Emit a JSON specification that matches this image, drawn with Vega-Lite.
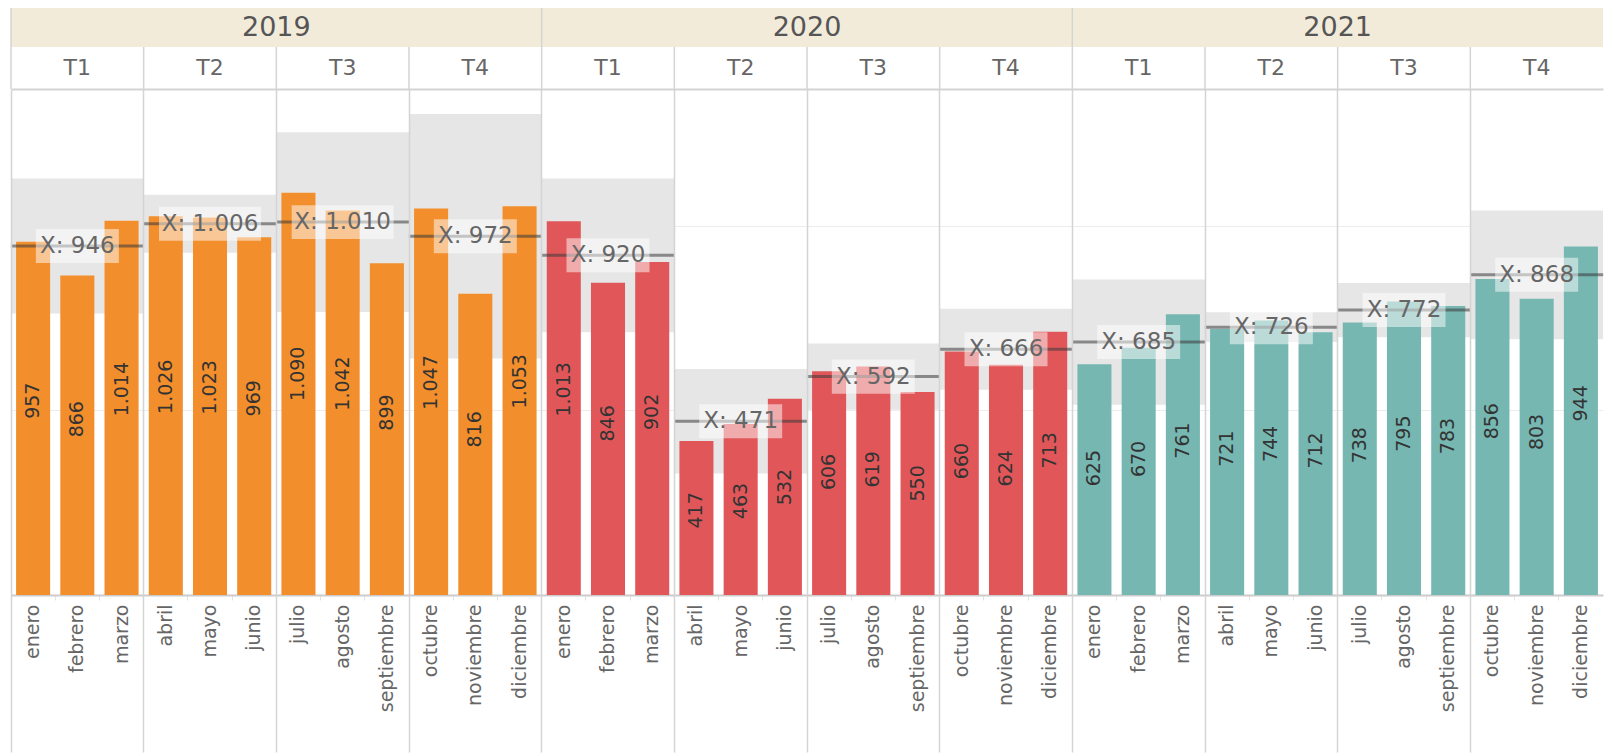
{
  "$schema": "https://vega.github.io/schema/vega-lite/v6.json",
  "padding": {"left": 10, "top": 7, "right": 0, "bottom": 0},
  "spacing": 0,
  "bounds": "flush",
  "config": {
    "view": {"stroke": null},
    "font": "DejaVu Sans",
    "locale": {"number": {"decimal": ",", "thousands": ".", "grouping": [3], "currency": ["", " €"]}},
    "axisY": {"labels": false, "ticks": false, "domain": false, "grid": true, "minExtent": 0, "maxExtent": 0}
  },
  "datasets": {
    "months": [
      {"y": "2019", "q": "T1", "qk": "2019|T1", "mk": "2019|enero", "v": 957},
      {"y": "2019", "q": "T1", "qk": "2019|T1", "mk": "2019|febrero", "v": 866},
      {"y": "2019", "q": "T1", "qk": "2019|T1", "mk": "2019|marzo", "v": 1014},
      {"y": "2019", "q": "T2", "qk": "2019|T2", "mk": "2019|abril", "v": 1026},
      {"y": "2019", "q": "T2", "qk": "2019|T2", "mk": "2019|mayo", "v": 1023},
      {"y": "2019", "q": "T2", "qk": "2019|T2", "mk": "2019|junio", "v": 969},
      {"y": "2019", "q": "T3", "qk": "2019|T3", "mk": "2019|julio", "v": 1090},
      {"y": "2019", "q": "T3", "qk": "2019|T3", "mk": "2019|agosto", "v": 1042},
      {"y": "2019", "q": "T3", "qk": "2019|T3", "mk": "2019|septiembre", "v": 899},
      {"y": "2019", "q": "T4", "qk": "2019|T4", "mk": "2019|octubre", "v": 1047},
      {"y": "2019", "q": "T4", "qk": "2019|T4", "mk": "2019|noviembre", "v": 816},
      {"y": "2019", "q": "T4", "qk": "2019|T4", "mk": "2019|diciembre", "v": 1053},
      {"y": "2020", "q": "T1", "qk": "2020|T1", "mk": "2020|enero", "v": 1013},
      {"y": "2020", "q": "T1", "qk": "2020|T1", "mk": "2020|febrero", "v": 846},
      {"y": "2020", "q": "T1", "qk": "2020|T1", "mk": "2020|marzo", "v": 902},
      {"y": "2020", "q": "T2", "qk": "2020|T2", "mk": "2020|abril", "v": 417},
      {"y": "2020", "q": "T2", "qk": "2020|T2", "mk": "2020|mayo", "v": 463},
      {"y": "2020", "q": "T2", "qk": "2020|T2", "mk": "2020|junio", "v": 532},
      {"y": "2020", "q": "T3", "qk": "2020|T3", "mk": "2020|julio", "v": 606},
      {"y": "2020", "q": "T3", "qk": "2020|T3", "mk": "2020|agosto", "v": 619},
      {"y": "2020", "q": "T3", "qk": "2020|T3", "mk": "2020|septiembre", "v": 550},
      {"y": "2020", "q": "T4", "qk": "2020|T4", "mk": "2020|octubre", "v": 660},
      {"y": "2020", "q": "T4", "qk": "2020|T4", "mk": "2020|noviembre", "v": 624},
      {"y": "2020", "q": "T4", "qk": "2020|T4", "mk": "2020|diciembre", "v": 713},
      {"y": "2021", "q": "T1", "qk": "2021|T1", "mk": "2021|enero", "v": 625},
      {"y": "2021", "q": "T1", "qk": "2021|T1", "mk": "2021|febrero", "v": 670},
      {"y": "2021", "q": "T1", "qk": "2021|T1", "mk": "2021|marzo", "v": 761},
      {"y": "2021", "q": "T2", "qk": "2021|T2", "mk": "2021|abril", "v": 721},
      {"y": "2021", "q": "T2", "qk": "2021|T2", "mk": "2021|mayo", "v": 744},
      {"y": "2021", "q": "T2", "qk": "2021|T2", "mk": "2021|junio", "v": 712},
      {"y": "2021", "q": "T3", "qk": "2021|T3", "mk": "2021|julio", "v": 738},
      {"y": "2021", "q": "T3", "qk": "2021|T3", "mk": "2021|agosto", "v": 795},
      {"y": "2021", "q": "T3", "qk": "2021|T3", "mk": "2021|septiembre", "v": 783},
      {"y": "2021", "q": "T4", "qk": "2021|T4", "mk": "2021|octubre", "v": 856},
      {"y": "2021", "q": "T4", "qk": "2021|T4", "mk": "2021|noviembre", "v": 803},
      {"y": "2021", "q": "T4", "qk": "2021|T4", "mk": "2021|diciembre", "v": 944}
    ],
    "quarters": [
      {"y": "2019", "q": "T1", "qk": "2019|T1", "mean": 945.7, "lo": 762.8, "hi": 1128.5, "lab": "X: 946"},
      {"y": "2019", "q": "T2", "qk": "2019|T2", "mean": 1006, "lo": 927.4, "hi": 1084.6, "lab": "X: 1.006"},
      {"y": "2019", "q": "T3", "qk": "2019|T3", "mean": 1010.3, "lo": 766.9, "hi": 1253.7, "lab": "X: 1.010"},
      {"y": "2019", "q": "T4", "qk": "2019|T4", "mean": 972, "lo": 641.0, "hi": 1303.0, "lab": "X: 972"},
      {"y": "2020", "q": "T1", "qk": "2020|T1", "mean": 920.3, "lo": 712.1, "hi": 1128.5, "lab": "X: 920"},
      {"y": "2020", "q": "T2", "qk": "2020|T2", "mean": 470.7, "lo": 328.9, "hi": 612.5, "lab": "X: 471"},
      {"y": "2020", "q": "T3", "qk": "2020|T3", "mean": 591.7, "lo": 501.9, "hi": 681.5, "lab": "X: 592"},
      {"y": "2020", "q": "T4", "qk": "2020|T4", "mean": 665.7, "lo": 556.0, "hi": 775.3, "lab": "X: 666"},
      {"y": "2021", "q": "T1", "qk": "2021|T1", "mean": 685.3, "lo": 515.6, "hi": 855.0, "lab": "X: 685"},
      {"y": "2021", "q": "T2", "qk": "2021|T2", "mean": 725.7, "lo": 685.2, "hi": 766.1, "lab": "X: 726"},
      {"y": "2021", "q": "T3", "qk": "2021|T3", "mean": 772, "lo": 698.4, "hi": 845.6, "lab": "X: 772"},
      {"y": "2021", "q": "T4", "qk": "2021|T4", "mean": 867.7, "lo": 693.2, "hi": 1042.1, "lab": "X: 868"}
    ],
    "years": [{"y": "2019"}, {"y": "2020"}, {"y": "2021"}]
  },
  "vconcat": [
    {
      "width": 1592,
      "height": 39,
      "data": {"name": "years"},
      "encoding": {
        "x": {"field": "y", "type": "nominal", "sort": null, "title": null,
              "scale": {"paddingInner": 0, "paddingOuter": 0}, "axis": null}
      },
      "layer": [
        {"mark": {"type": "rect", "fill": "#f3ebda"}},
        {"mark": {"type": "rule", "color": "#d4d4d4", "strokeWidth": 1.5},
         "encoding": {"x": {"field": "y", "type": "nominal", "sort": null, "bandPosition": 0,
                            "scale": {"paddingInner": 0, "paddingOuter": 0}, "axis": null}}},
        {"mark": {"type": "text", "fontSize": 27, "color": "#555555"}, "encoding": {"text": {"field": "y"}}}
      ]
    },
    {
      "width": 1592,
      "height": 42,
      "data": {"name": "quarters"},
      "encoding": {
        "x": {"field": "qk", "type": "nominal", "sort": null, "title": null,
              "scale": {"paddingInner": 0, "paddingOuter": 0}, "axis": null}
      },
      "layer": [
        {"mark": {"type": "rule", "color": "#d4d4d4", "strokeWidth": 1.5},
         "encoding": {"x": {"field": "qk", "type": "nominal", "sort": null, "bandPosition": 0, "title": null,
                            "scale": {"paddingInner": 0, "paddingOuter": 0}, "axis": null}}},
        {"mark": {"type": "text", "fontSize": 22, "color": "#666666"},
         "encoding": {"text": {"field": "q"}}}
      ]
    },
    {
      "width": 1592,
      "height": 506,
      "resolve": {"scale": {"x": "independent", "y": "shared"}, "axis": {"x": "independent"}},
      "layer": [
        {
          "data": {"name": "quarters"},
          "mark": {"type": "rect", "fill": "#e6e6e6"},
          "encoding": {
            "x": {"field": "qk", "type": "nominal", "sort": null, "title": null,
                  "scale": {"paddingInner": 0, "paddingOuter": 0},
                  "axis": {"orient": "bottom", "labels": false, "domain": false, "ticks": true, "tickSize": 157, "tickColor": "#d4d4d4", "tickWidth": 1.5, "grid": true, "gridColor": "#d4d4d4", "gridWidth": 1.5, "bandPosition": 0, "zindex": 1}},
            "y": {"field": "lo", "type": "quantitative", "title": null, "scale": {"domain": [0, 1371], "nice": false},
                  "axis": {"values": [500, 1000, 1371], "gridColor": {"condition": {"test": "datum.value > 1300", "value": "#d4d4d4"}, "value": "#ececec"}, "gridWidth": {"condition": {"test": "datum.value > 1300", "value": 2}, "value": 1}}},
            "y2": {"field": "hi"}
          }
        },
        {
          "data": {"name": "months"},
          "encoding": {
            "x": {"field": "mk", "type": "nominal", "sort": null, "title": null,
                  "scale": {"paddingInner": 0, "paddingOuter": 0},
                  "axis": {"orient": "bottom", "labelAngle": 270, "labelAlign": "right", "labelBaseline": "middle", "labelExpr": "split(datum.value, '|')[1]", "labelFontSize": 19, "labelColor": "#666666", "labelPadding": 4, "ticks": true, "tickSize": 5, "tickColor": "#e2e2e2", "bandPosition": 0, "domain": true, "domainColor": "#cccccc", "domainWidth": 2, "grid": false}}
          },
          "layer": [
            {
              "mark": {"type": "bar", "width": {"band": 0.77}},
              "encoding": {
                "y": {"field": "v", "type": "quantitative", "title": null, "scale": {"domain": [0, 1371], "nice": false},
                      "axis": {"values": [500, 1000, 1371], "gridColor": {"condition": {"test": "datum.value > 1300", "value": "#d4d4d4"}, "value": "#ececec"}, "gridWidth": {"condition": {"test": "datum.value > 1300", "value": 2}, "value": 1}}},
                "color": {"field": "y", "type": "nominal", "legend": null,
                          "scale": {"domain": ["2019", "2020", "2021"], "range": ["#F28E2B", "#E15759", "#76B7B2"]}}
              }
            },
            {
              "mark": {"type": "text", "angle": 270, "fontSize": 19, "color": "#333333"},
              "encoding": {
                "y": {"field": "v", "type": "quantitative", "stack": "zero", "bandPosition": 0.55, "title": null, "scale": {"domain": [0, 1371], "nice": false},
                      "axis": {"values": [500, 1000, 1371], "gridColor": {"condition": {"test": "datum.value > 1300", "value": "#d4d4d4"}, "value": "#ececec"}, "gridWidth": {"condition": {"test": "datum.value > 1300", "value": 2}, "value": 1}}},
                "text": {"field": "v", "type": "quantitative", "format": ",d"}
              }
            }
          ]
        },
        {
          "data": {"name": "quarters"},
          "encoding": {
            "x": {"field": "qk", "type": "nominal", "sort": null, "title": null,
                  "scale": {"paddingInner": 0, "paddingOuter": 0}, "axis": null},
            "y": {"field": "mean", "type": "quantitative", "title": null, "scale": {"domain": [0, 1371], "nice": false},
                  "axis": {"values": [500, 1000, 1371], "gridColor": {"condition": {"test": "datum.value > 1300", "value": "#d4d4d4"}, "value": "#ececec"}, "gridWidth": {"condition": {"test": "datum.value > 1300", "value": 2}, "value": 1}}}
          },
          "layer": [
            {"mark": {"type": "tick", "orient": "horizontal", "size": 133, "thickness": 3, "color": "#3a3a3a", "opacity": 0.55}},
            {
              "mark": {"type": "point", "filled": true, "color": "#ffffff", "opacity": 0.5, "strokeWidth": 0},
              "encoding": {
                "size": {"condition": {"test": "datum.mean >= 1000", "value": 10404}, "value": 6889},
                "shape": {"condition": {"test": "datum.mean >= 1000", "value": "M-1,-0.333L1,-0.333L1,0.333L-1,0.333Z"}, "value": "M-1,-0.41L1,-0.41L1,0.41L-1,0.41Z"}
              }
            },
            {
              "mark": {"type": "text", "fontSize": 23, "color": "#666666"},
              "encoding": {"text": {"field": "lab"}}
            }
          ]
        }
      ]
    }
  ]
}
